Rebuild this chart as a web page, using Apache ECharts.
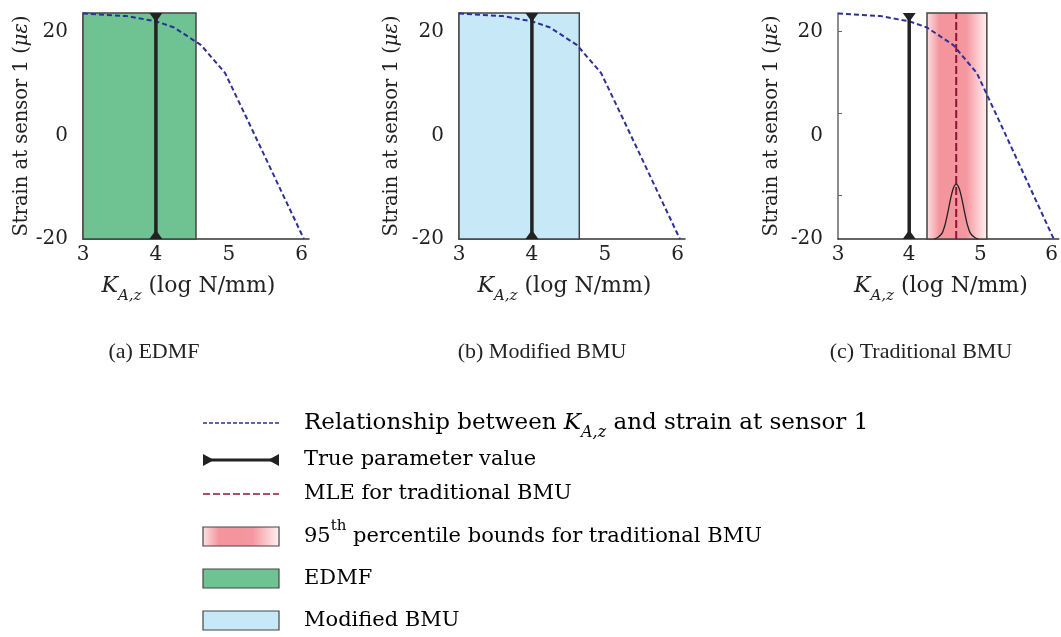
<!DOCTYPE html>
<html>
<head>
<meta charset="utf-8">
<script src="https://cdn.jsdelivr.net/npm/echarts@6/dist/echarts.min.js"></script>
<style>
html, body { margin: 0; padding: 0; background: #fff; }
#chart { width: 1061px; height: 637px; }
</style>
</head>
<body>
<div id="chart"></div>
<script>
// relationship K_A,z -> strain at sensor 1 (same in all panels)
var curveK = [3.0, 3.6, 4.0, 4.25, 4.62, 4.95, 5.3, 6.03];
var curveStrain = [23.5, 23.0, 22.0, 20.8, 17.4, 12.0, 1.7, -20];

var trueValue = 4.0;
var edmfBounds = [3.0, 4.55];
var modifiedBounds = [3.0, 4.65];
var pctBounds = [4.25, 5.09];
var mleValue = 4.66;

// posterior pdf sketched in panel (c), in strain units
var pdfK = [4.35, 4.40, 4.46, 4.50, 4.54, 4.58, 4.62, 4.66, 4.70, 4.74, 4.78, 4.82, 4.86, 4.92, 4.97];
var pdfStrain = [-20, -19.7, -18.9, -17.4, -15.0, -12.3, -10.2, -9.4, -10.2, -12.3, -15.0, -17.4, -18.9, -19.7, -20];

var xTicks = [3, 4, 5, 6];
var yLabels = [20, 0, -20];
var yTicks = [20, 4.25, -11.5];
var captions = ['(a) EDMF', '(b) Modified BMU', '(c) Traditional BMU'];

var yMin = -20, yMax = 23.6, xMin = 3, xMax = 6.1;
var FONT = 'DejaVu Serif';
var gridLefts = [83, 459, 838];
var nameGaps = [47, 57, 56];

var C_CURVE = '#2f2f9c', C_TRUE = '#222', C_MLE = '#8c1535';
var C_EDMF = '#6fc393', C_MOD = '#c6e8f7', C_BORDER = '#444';
function pinkGrad() {
    return new echarts.graphic.LinearGradient(0, 0, 1, 0, [
        {offset: 0, color: '#fbe3e5'},
        {offset: 0.22, color: '#f4949c'},
        {offset: 0.65, color: '#f5979f'},
        {offset: 1, color: '#fff3f3'}
    ]);
}

function makeRich(size, subSize) {
    return {
        n: {fontFamily: FONT, fontSize: size, color: '#222', lineHeight: 36, verticalAlign: 'middle'},
        k: {fontFamily: FONT, fontSize: size, color: '#222', fontStyle: 'italic', lineHeight: 36, verticalAlign: 'middle'},
        sub: {fontFamily: FONT, fontSize: subSize, color: '#222', fontStyle: 'italic', lineHeight: 15, verticalAlign: 'bottom'},
        sup: {fontFamily: FONT, fontSize: subSize, color: '#222', lineHeight: 15, verticalAlign: 'top'}
    };
}
var legendRich = makeRich(21, 15);
var firstRich = makeRich(23, 16);
var nameRich = makeRich(22, 15);

function pairs(xs, ys) {
    var out = [];
    for (var i = 0; i < xs.length; i++) out.push([xs[i], ys[i]]);
    return out;
}

function boundsRenderer(fill) {
    return function (params, api) {
        var p0 = api.coord([api.value(0), yMax]);
        var p1 = api.coord([api.value(1), yMin]);
        return {
            type: 'rect',
            shape: {x: p0[0], y: p0[1], width: p1[0] - p0[0], height: p1[1] - p0[1]},
            style: {fill: fill, stroke: C_BORDER, lineWidth: 1.5}
        };
    };
}

var grids = [], xAxes = [], yAxes = [], series = [];
for (var i = 0; i < 3; i++) {
    grids.push({left: gridLefts[i], top: 13, width: 226, height: 226});
    xAxes.push({
        gridIndex: i, type: 'value', min: xMin, max: xMax,
        axisLine: {show: true, onZero: false, lineStyle: {color: '#333', width: 1.5}},
        axisTick: {show: false},
        splitLine: {show: false},
        axisLabel: {customValues: xTicks, fontFamily: FONT, fontSize: 20, color: '#222', margin: 6},
        name: '{k|K}{sub|A,z}{n| (log N/mm)}',
        nameLocation: 'middle', nameGap: 29,
        nameTextStyle: {rich: nameRich, padding: [0, 15, 0, 0]}
    });
    yAxes.push({
        gridIndex: i, type: 'value', min: yMin, max: yMax,
        axisLine: {show: true, onZero: false, lineStyle: {color: '#666', width: 1.5}},
        axisTick: {show: true, inside: true, length: 4, customValues: yTicks, lineStyle: {color: '#666'}},
        splitLine: {show: false},
        axisLabel: {customValues: yLabels, fontFamily: FONT, fontSize: 20, color: '#222', margin: 15},
        name: '{n|Strain at sensor 1 (}{k|\u03bc\u03b5}{n|)}',
        nameLocation: 'middle', nameGap: nameGaps[i],
        nameTextStyle: {rich: {
            n: {fontFamily: FONT, fontSize: 19.5, color: '#222'},
            k: {fontFamily: FONT, fontSize: 19.5, color: '#222', fontStyle: 'italic'}
        }}
    });
}

// bounds rectangles
series.push({type: 'custom', xAxisIndex: 0, yAxisIndex: 0, z: 1, renderItem: boundsRenderer(C_EDMF),
    encode: {x: [0, 1]}, data: [edmfBounds]});
series.push({type: 'custom', xAxisIndex: 1, yAxisIndex: 1, z: 1, renderItem: boundsRenderer(C_MOD),
    encode: {x: [0, 1]}, data: [modifiedBounds]});
series.push({type: 'custom', xAxisIndex: 2, yAxisIndex: 2, z: 1, renderItem: boundsRenderer(pinkGrad()),
    encode: {x: [0, 1]}, data: [pctBounds]});

// MLE + pdf in panel c
series.push({type: 'line', xAxisIndex: 2, yAxisIndex: 2, z: 3, symbol: 'none', silent: true,
    lineStyle: {color: C_MLE, width: 2, type: [8, 3]},
    data: [[mleValue, yMin], [mleValue, yMax]]});
series.push({type: 'line', xAxisIndex: 2, yAxisIndex: 2, z: 3, symbol: 'none', smooth: 0.3, silent: true,
    lineStyle: {color: '#222', width: 1.3},
    data: pairs(pdfK, pdfStrain)});

for (var j = 0; j < 3; j++) {
    series.push({type: 'line', xAxisIndex: j, yAxisIndex: j, z: 4, symbol: 'none', silent: true,
        lineStyle: {color: C_CURVE, width: 2, type: [5, 3]},
        data: pairs(curveK, curveStrain)});
    series.push({type: 'line', xAxisIndex: j, yAxisIndex: j, z: 5, clip: false, silent: true,
        symbol: 'triangle', symbolSize: [13, 9], showSymbol: true,
        itemStyle: {color: C_TRUE}, lineStyle: {color: C_TRUE, width: 3.5},
        data: [
            {value: [trueValue, yMin], symbolOffset: [0, -4.5]},
            {value: [trueValue, yMax], symbolRotate: 180, symbolOffset: [0, 4.5]}
        ]});
}

// captions + legend (drawn as graphics)
var graphics = [];
var capX = [154, 542, 921];
for (var c = 0; c < 3; c++) {
    graphics.push({type: 'text', x: capX[c], y: 352,
        style: {text: captions[c], font: '22px "Liberation Serif"', fill: '#222', align: 'center', verticalAlign: 'middle'}});
}
var lx0 = 203, lx1 = 279, tx = 304;
var rowsY = [423, 460, 494, 537, 579, 621];
var legendTexts = [
    '{n|Relationship between }{k|K}{sub|A,z}{n| and strain at sensor 1}',
    '{n|True parameter value}',
    '{n|MLE for traditional BMU}',
    '{n|95}{sup|th}{n| percentile bounds for traditional BMU}',
    '{n|EDMF}',
    '{n|Modified BMU}'
];
for (var r = 0; r < legendTexts.length; r++) {
    graphics.push({type: 'text', x: tx, y: rowsY[r],
        style: {text: legendTexts[r], rich: r === 0 ? firstRich : legendRich, verticalAlign: 'middle', align: 'left'}});
}
graphics.push({type: 'line', shape: {x1: lx0, y1: rowsY[0], x2: lx1, y2: rowsY[0]},
    style: {stroke: C_CURVE, lineWidth: 1.5, lineDash: [4, 2]}});
graphics.push({type: 'line', shape: {x1: lx0, y1: rowsY[1], x2: lx1, y2: rowsY[1]},
    style: {stroke: C_TRUE, lineWidth: 3}});
graphics.push({type: 'polygon', shape: {points: [[lx0, rowsY[1] - 6], [lx0 + 11, rowsY[1]], [lx0, rowsY[1] + 6]]},
    style: {fill: C_TRUE}});
graphics.push({type: 'polygon', shape: {points: [[lx1, rowsY[1] - 6], [lx1 - 11, rowsY[1]], [lx1, rowsY[1] + 6]]},
    style: {fill: C_TRUE}});
graphics.push({type: 'line', shape: {x1: lx0, y1: rowsY[2], x2: lx1, y2: rowsY[2]},
    style: {stroke: C_MLE, lineWidth: 1.5, lineDash: [7, 3]}});
var fills = [pinkGrad(), C_EDMF, C_MOD];
for (var f = 0; f < 3; f++) {
    graphics.push({type: 'rect', shape: {x: lx0, y: rowsY[3 + f] - 10, width: lx1 - lx0, height: 19},
        style: {fill: fills[f], stroke: C_BORDER, lineWidth: 1.2}});
}

var myChart = echarts.init(document.getElementById('chart'));
myChart.setOption({
    backgroundColor: '#fff',
    animation: false,
    grid: grids,
    xAxis: xAxes,
    yAxis: yAxes,
    series: series,
    graphic: graphics
});
</script>
</body>
</html>
